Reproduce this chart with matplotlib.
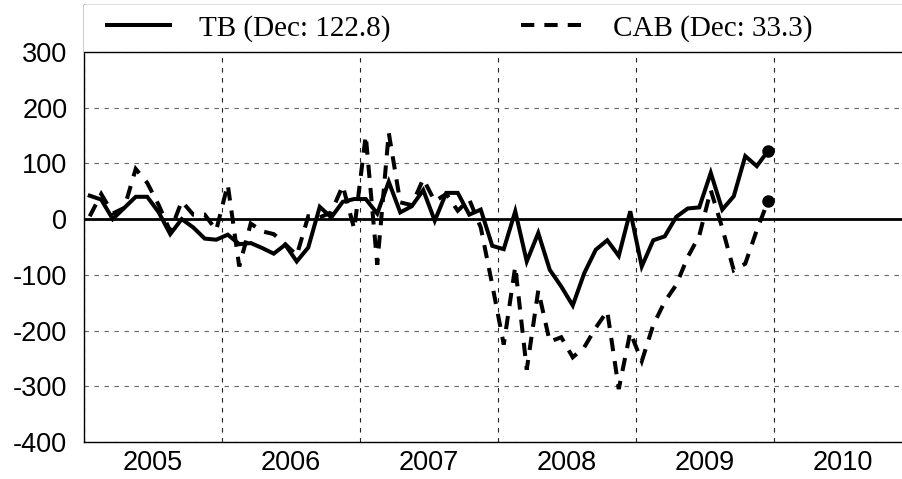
import matplotlib
matplotlib.use("Agg")
import matplotlib.pyplot as plt
import pandas as pd

# === DATA ===
months = pd.period_range("2005-01", "2009-12", freq="M")

tb = [
    42, 35, 0, 20, 40, 40, 12, -27, 0, -15, -35, -37,          # 2005
    -28, -45, -43, -52, -62, -46, -76, -51, 22, 3, 31, 36,     # 2006
    36, 10, 67, 12, 23, 52, -3, 47, 47, 8, 17, -48,            # 2007
    -54, 14, -76, -25, -91, -121, -155, -97, -55, -38, -66, 14,  # 2008
    -85, -38, -31, 4, 19, 21, 83, 17, 41, 113, 95, 122.8,      # 2009
]

cab = [
    5, 45, 10, 20, 90, 65, 25, -22, 32, 8, 8, -20,
    62, -85, -8, -22, -27, -45, -65, 5, 3, 12, 60, -18,
    150, -82, 155, 30, 25, 72, 32, 45, 15, 35, -15, -118,
    -225, -85, -270, -128, -220, -212, -248, -230, -195, -165, -305, -203,
    -255, -190, -148, -118, -68, -30, 52, -16, -92, -80, -20, 33.3,
]

tb_label = "TB (Dec: 122.8)"
cab_label = "CAB (Dec: 33.3)"
year_labels = ["2005", "2006", "2007", "2008", "2009", "2010"]
year_edges = [2005, 2006, 2007, 2008, 2009, 2010, 2011]
y_ticks = [-400, -300, -200, -100, 0, 100, 200, 300]

# === FIGURE ===
plt.rcParams["font.family"] = "Liberation Sans"
plt.rcParams["axes.unicode_minus"] = False
fig = plt.figure(figsize=(9.03, 4.79), dpi=100)
ax = fig.add_axes([0.093, 0.0772, 0.917, 0.9134])

x = months.year + (months.month - 0.5) / 12

ax.plot(x, tb, color="black", lw=2.9, solid_joinstyle="miter",
        label=tb_label, zorder=4)
ax.plot(x, cab, color="black", lw=2.9, linestyle=(0, (3.3, 2.5)),
        dash_joinstyle="miter", label=cab_label, zorder=4)
ax.plot(x[-1:], tb[-1:], "o", color="black", ms=8, zorder=5)
ax.plot(x[-1:], cab[-1:], "o", color="black", ms=8, zorder=5)

ax.axhline(0, color="black", lw=2, zorder=3)

# axes and ticks
ax.set_xlim(year_edges[0], year_edges[-1])
ax.set_ylim(-400, 385)
ax.set_yticks(y_ticks)
ax.set_xticks(year_edges)
ax.set_xticklabels([])
ax.set_xticks([y + 0.5 for y in year_edges[:-1]], minor=True)
ax.set_xticklabels(year_labels, minor=True)
ax.tick_params(axis="x", which="both", length=0, pad=6, labelsize=19.5)
ax.tick_params(axis="y", length=0, pad=12, labelsize=19.5)

ax.grid(axis="x", which="major", color="#222222", lw=0.8, linestyle=(0, (4, 5)))
ax.grid(axis="y", color="#666666", lw=0.8, linestyle=(0, (4, 5)))
ax.set_axisbelow(True)

for side in ["left", "bottom", "top"]:
    ax.spines[side].set_linewidth(1)
ax.spines["top"].set_color("#555555")
ax.spines["right"].set_visible(False)

# legend box on top of the plot
ax.axhspan(300, 385, color="white", zorder=6)
ax.axhline(300, color="black", lw=1, zorder=7)
leg = ax.legend(loc="center left", bbox_to_anchor=(0.0278, 0.9459), ncol=2,
                frameon=False, prop={"family": "Liberation Serif", "size": 21},
                handlelength=2.17, handletextpad=0.97, columnspacing=4.5,
                borderpad=0, borderaxespad=0)
leg.set_zorder(8)

fig.savefig("out.png", dpi=100)
